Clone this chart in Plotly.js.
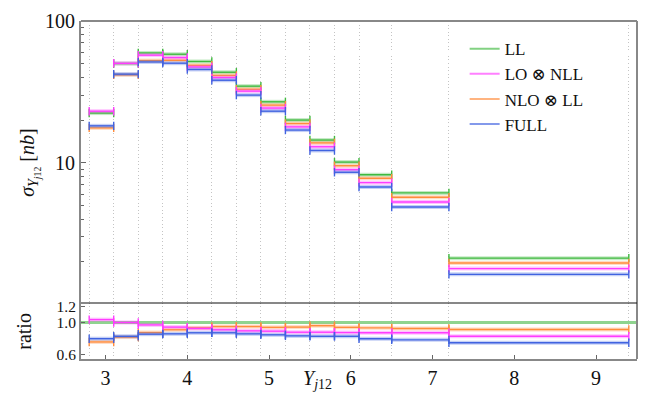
<!DOCTYPE html>
<html>
<head>
<meta charset="utf-8">
<script src="https://cdn.plot.ly/plotly-3.0.1.min.js"></script>
<style>html,body{margin:0;padding:0;background:#fff;}</style>
</head>
<body>
<div id="chart" style="width:664px;height:399px;"></div>
<script>
// ---- data ----
const edges = [2.8, 3.1, 3.4, 3.7, 4.0, 4.3, 4.6, 4.9, 5.2, 5.5, 5.8, 6.1, 6.5, 7.2, 9.4];
const seriesNames = ["LL", "LO \u2297 NLL", "NLO \u2297 LL", "FULL"];
const sigLL    = [22.4, 50.1, 59.5, 58.3, 51.8, 43.5, 34.7, 26.9, 20.0, 14.45, 10.1, 8.23, 6.12, 2.12];
const sigLONLL = [23.1, 50.3, 57.4, 55.2, 47.4, 39.9, 32.0, 24.3, 17.9, 12.96, 8.93, 7.23, 5.28, 1.79];
const sigNLOLL = [17.6, 41.7, 52.6, 52.8, 48.7, 41.3, 33.0, 25.5, 18.9, 13.8, 9.52, 7.76, 5.70, 1.96];
const sigFULL  = [18.2, 42.2, 51.4, 50.4, 45.5, 38.2, 30.0, 23.1, 17.0, 12.2, 8.56, 6.74, 4.87, 1.63];
const ratioLL    = 1.0;
const ratioLONLL = [1.035, 1.00, 0.97, 0.943, 0.926, 0.91, 0.897, 0.893, 0.88, 0.88, 0.876, 0.873, 0.873, 0.83];
const ratioNLOLL = [0.76, 0.82, 0.876, 0.91, 0.934, 0.95, 0.95, 0.94, 0.943, 0.96, 0.94, 0.934, 0.926, 0.913];
const ratioFULL  = [0.80, 0.83, 0.856, 0.86, 0.873, 0.873, 0.86, 0.848, 0.835, 0.83, 0.83, 0.80, 0.786, 0.75];
const xTicks = [3, 4, 5, 6, 7, 8, 9];
const yTicksMain = [10, 100];
const yTicksRatio = [0.6, 1.0, 1.2];
const yTickTextRatio = ["0.6", "1.0", "1.2"];

// ---- styling ----
const colors = {LL: "#3fb93f", LONLL: "#ff3cff", NLOLL: "#ff8c3c", FULL: "#4063e0"};
const FONT = "'Liberation Serif', 'DejaVu Serif', 'Times New Roman', serif";

function segs(vals) {
  const x = [], y = [];
  vals.forEach((v, i) => { x.push(edges[i], edges[i + 1], null); y.push(v, v, null); });
  return {x, y};
}

const traces = [];
function addSeries(vals, color, yaxis) {
  const s = segs(vals);
  traces.push({x: s.x, y: s.y, xaxis: "x", yaxis: yaxis, mode: "lines", showlegend: false,
    hoverinfo: "skip", line: {color: color, width: 4}, opacity: 0.3, connectgaps: false});
  traces.push({x: s.x, y: s.y, xaxis: "x", yaxis: yaxis, mode: "lines+markers", showlegend: false,
    line: {color: color, width: 1.4}, connectgaps: false,
    marker: {symbol: "line-ns", size: 6, color: color, line: {color: color, width: 1.4}}});
}
addSeries(sigLL, colors.LL, "y2");
addSeries(sigNLOLL, colors.NLOLL, "y2");
addSeries(sigLONLL, colors.LONLL, "y2");
addSeries(sigFULL, colors.FULL, "y2");
addSeries(ratioNLOLL, colors.NLOLL, "y");
addSeries(ratioLONLL, colors.LONLL, "y");
addSeries(ratioFULL, colors.FULL, "y");

// legend entries
[["LL", colors.LL, 1], ["LONLL", colors.LONLL, 2], ["NLOLL", colors.NLOLL, 3], ["FULL", colors.FULL, 4]]
  .forEach(([k, c, r], i) => {
    traces.push({x: [null], y: [null], xaxis: "x", yaxis: "y2", mode: "lines", name: seriesNames[i],
      legendrank: r, line: {color: c, width: 2}, opacity: 0.65});
  });

const ratioTop = 0.1657;
const layout = {
  width: 664, height: 399,
  margin: {l: 81, r: 27, t: 21, b: 40},
  paper_bgcolor: "#fff", plot_bgcolor: "#fff",
  font: {family: FONT, size: 19, color: "#111"},
  showlegend: true,
  legend: {x: 0.69, y: 0.97, xanchor: "left", yanchor: "top", bgcolor: "rgba(0,0,0,0)",
    font: {family: FONT, size: 17, color: "#111"}, itemwidth: 30, tracegroupgap: 0},
  xaxis: {
    domain: [0, 1], anchor: "y", range: [2.7, 9.5],
    tickvals: xTicks, ticks: "inside", ticklen: 4, tickcolor: "#666",
    showline: true, linecolor: "#888", linewidth: 2,
    showgrid: false, zeroline: false,
    tickfont: {family: FONT, size: 20, color: "#111"},
    minor: {tickvals: edges, showgrid: true, gridcolor: "#c4c4c4", griddash: "1px,2.5px", gridwidth: 1, ticks: ""}
  },
  yaxis: {
    domain: [0, ratioTop], anchor: "x", range: [0.55, 1.24],
    tickvals: yTicksRatio, ticktext: yTickTextRatio, ticks: "inside", ticklen: 4, tickcolor: "#666",
    showline: true, linecolor: "#888", linewidth: 2, showgrid: false, zeroline: false,
    tickfont: {family: FONT, size: 15.5, color: "#111"}
  },
  yaxis2: {
    domain: [ratioTop, 1], anchor: "x", type: "log", range: [0.01, 2],
    tickvals: yTicksMain, ticktext: ["10", "100"], ticks: "inside", ticklen: 5, tickcolor: "#666",
    showline: true, linecolor: "#888", linewidth: 2, showgrid: false, zeroline: false,
    tickfont: {family: FONT, size: 20, color: "#111"},
    minor: {tickvals: [2,3,4,5,6,7,8,9,20,30,40,50,60,70,80,90], ticks: "inside", ticklen: 3, tickcolor: "#666", showgrid: false}
  },
  shapes: [
    {type: "line", xref: "paper", yref: "paper", x0: 0, x1: 1, y0: 1, y1: 1, line: {color: "#888", width: 2}},
    {type: "line", xref: "paper", yref: "paper", x0: 1, x1: 1, y0: 0, y1: 1, line: {color: "#888", width: 2}},
    {type: "line", xref: "paper", yref: "paper", x0: 0, x1: 1, y0: ratioTop, y1: ratioTop, line: {color: "#111", width: 1.2}},
    {type: "line", xref: "paper", yref: "y", x0: 0, x1: 1, y0: ratioLL, y1: ratioLL, layer: "below", line: {color: "#8fd48f", width: 3}}
  ],
  annotations: [
    {xref: "paper", yref: "paper", x: -0.092, y: (1 + ratioTop) / 2, xanchor: "center", yanchor: "middle",
     textangle: -90, showarrow: false, font: {family: FONT, size: 20, color: "#111"},
     text: "<i>σ</i><sub><i>Y</i><sub><i>j</i>12</sub></sub> [<i>nb</i>]"},
    {xref: "paper", yref: "paper", x: -0.103, y: ratioTop / 2, xanchor: "center", yanchor: "middle",
     textangle: -90, showarrow: false, font: {family: FONT, size: 20, color: "#111"}, text: "ratio"},
    {xref: "paper", yref: "paper", x: 0.426, y: -0.062, xanchor: "center", yanchor: "middle",
     showarrow: false, font: {family: FONT, size: 20, color: "#111"},
     text: "<i>Y</i><sub><i>j</i>12</sub>"}
  ]
};

Plotly.newPlot("chart", traces, layout, {displayModeBar: false, staticPlot: true});
</script>
</body>
</html>
